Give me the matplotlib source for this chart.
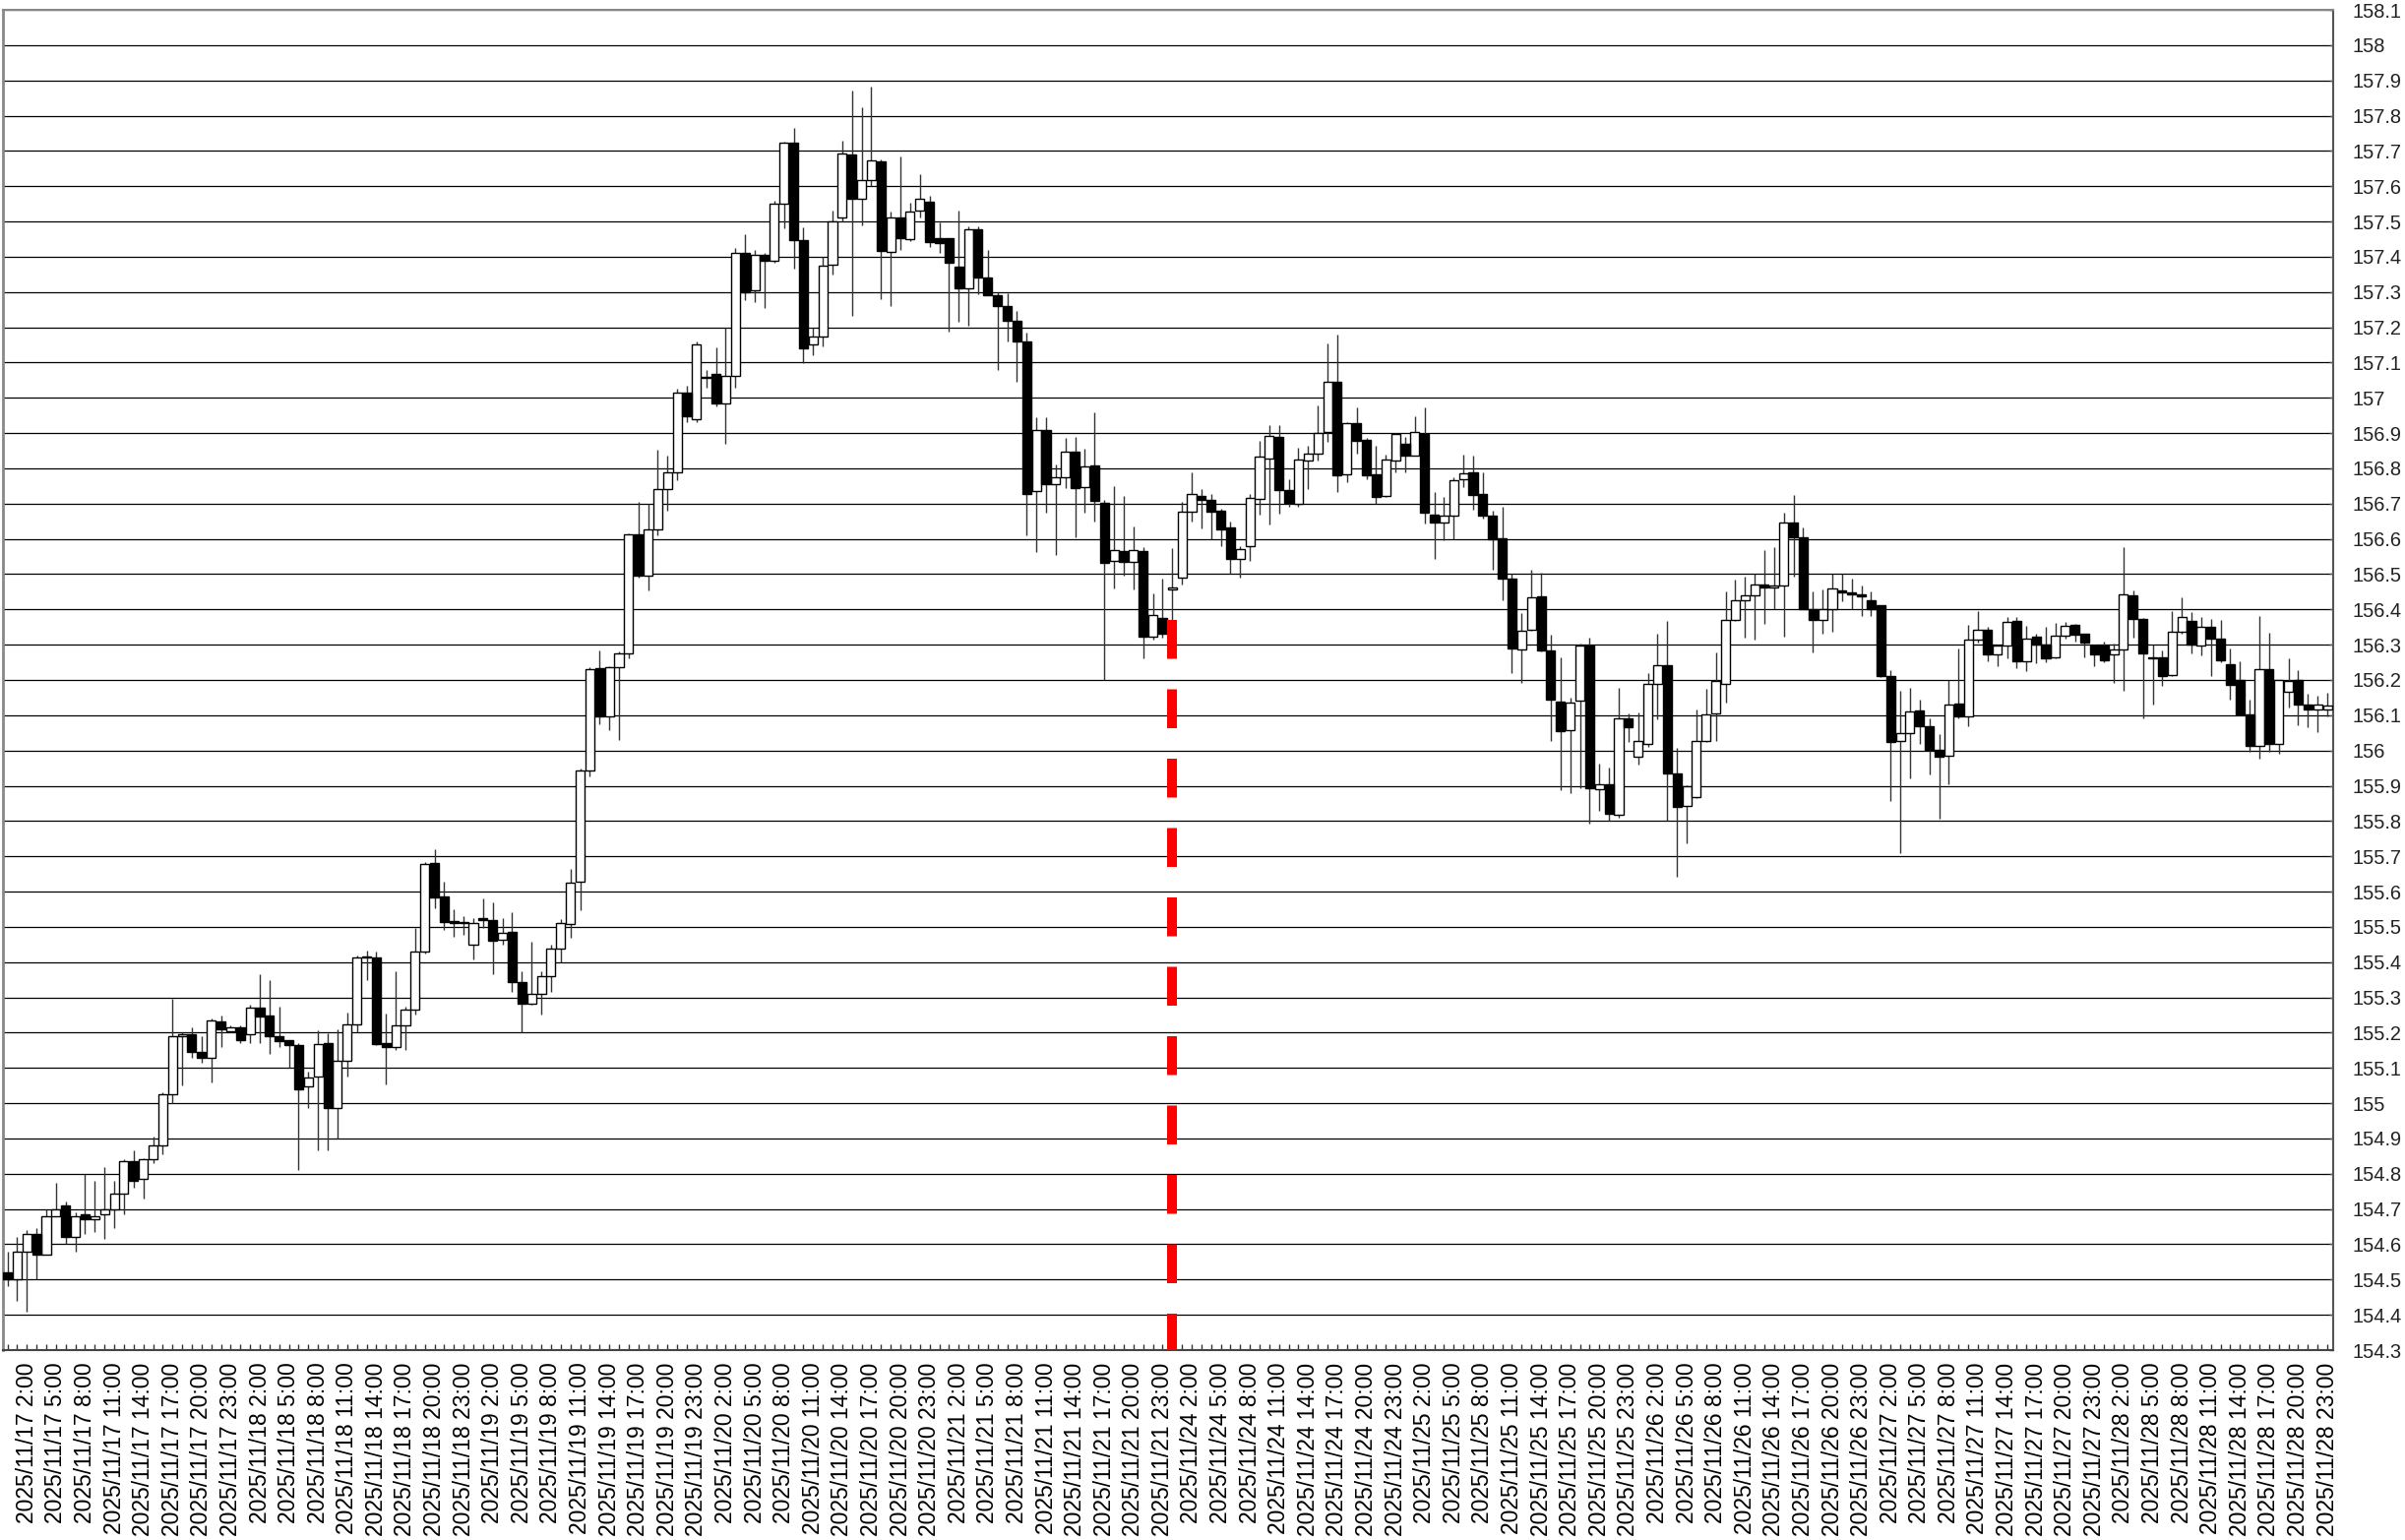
import numpy as np
import matplotlib.pyplot as plt

plt.rcParams['font.family'] = ['Liberation Sans', 'DejaVu Sans']

# hourly USD/JPY bars, 2025/11/17 0:00 - 2025/11/28 23:00 (weekend skipped)
days = ["11/17", "11/18", "11/19", "11/20", "11/21",
        "11/24", "11/25", "11/26", "11/27", "11/28"]
hours = list(range(24))

opens = [
    154.52, 154.50, 154.58, 154.63, 154.57, 154.68, 154.71, 154.62, 154.685, 154.67, 154.685, 154.70,
    154.745, 154.835, 154.785, 154.84, 154.88, 155.025, 155.19, 155.195, 155.145, 155.13, 155.233, 155.205,
    155.215, 155.195, 155.27, 155.248, 155.19, 155.18, 155.165, 155.047, 155.077, 155.17, 154.987, 155.12,
    155.224, 155.413, 155.413, 155.17, 155.158, 155.221, 155.264, 155.43, 155.68, 155.586, 155.517, 155.51,
    155.45, 155.526, 155.52, 155.463, 155.486, 155.343, 155.282, 155.31, 155.359, 155.438, 155.507, 155.628,
    155.942, 156.233, 156.097, 156.235, 156.274, 156.613, 156.497, 156.626, 156.741, 156.788, 157.016, 156.939,
    157.06, 157.068, 156.985, 157.063, 157.412, 157.306, 157.404, 157.388, 157.549, 157.723, 157.446, 157.15,
    157.173, 157.376, 157.51, 157.69, 157.564, 157.617, 157.67, 157.414, 157.51, 157.451, 157.53, 157.555,
    157.453, 157.453, 157.372, 157.31, 157.478, 157.342, 157.292, 157.26, 157.218, 157.159, 156.735, 156.908,
    156.754, 156.774, 156.848, 156.746, 156.808, 156.701, 156.537, 156.565, 156.535, 156.565, 156.322, 156.376,
    156.458, 156.491, 156.677, 156.723, 156.711, 156.68, 156.633, 156.542, 156.579, 156.714, 156.827, 156.89,
    156.739, 156.70, 156.821, 156.841, 156.902, 157.044, 156.782, 156.928, 156.881, 156.784, 156.723, 156.823,
    156.869, 156.835, 156.898, 156.67, 156.646, 156.667, 156.77, 156.79, 156.728, 156.666, 156.602, 156.488,
    156.286, 156.343, 156.437, 156.284, 156.14, 156.057, 156.142, 156.298, 155.89, 155.903, 155.818, 156.092,
    155.982, 156.019, 156.189, 156.241, 155.936, 155.843, 155.868, 156.026, 156.106, 156.189, 156.37, 156.426,
    156.439, 156.472, 156.462, 156.467, 156.646, 156.604, 156.402, 156.37, 156.40, 156.454, 156.447, 156.442,
    156.426, 156.413, 156.212, 156.027, 156.048, 156.113, 156.068, 156.001, 155.986, 156.133, 156.097, 156.315,
    156.343, 156.273, 156.299, 156.368, 156.252, 156.322, 156.30, 156.263, 156.325, 156.356, 156.33, 156.298,
    156.298, 156.273, 156.286, 156.441, 156.373, 156.263, 156.263, 156.215, 156.336, 156.368, 156.298, 156.35,
    156.317, 156.246, 156.199, 156.102, 156.013, 156.232, 156.02, 156.166, 156.199, 156.13, 156.117, 156.115,
]
highs = [
    154.58, 154.62, 154.64, 154.645, 154.70, 154.775, 154.72, 154.69, 154.80, 154.78, 154.82, 154.78,
    154.84, 154.865, 154.845, 154.905, 155.03, 155.295, 155.20, 155.215, 155.19, 155.24, 155.25, 155.22,
    155.22, 155.28, 155.367, 155.35, 155.275, 155.18, 155.17, 155.09, 155.207, 155.198, 155.21, 155.258,
    155.42, 155.432, 155.43, 155.253, 155.373, 155.275, 155.496, 155.684, 155.72, 155.628, 155.55, 155.53,
    155.524, 155.58, 155.57, 155.526, 155.542, 155.373, 155.459, 155.373, 155.45, 155.523, 155.663, 155.95,
    156.235, 156.283, 156.24, 156.28, 156.615, 156.705, 156.70, 156.853, 156.836, 157.026, 157.034, 157.159,
    157.08, 157.144, 157.199, 157.424, 157.463, 157.42, 157.41, 157.56, 157.725, 157.766, 157.483, 157.20,
    157.40, 157.53, 157.73, 157.872, 157.824, 157.883, 157.677, 157.527, 157.685, 157.553, 157.634, 157.572,
    157.496, 157.453, 157.532, 157.487, 157.485, 157.42, 157.30, 157.297, 157.247, 157.184, 156.946, 156.944,
    156.81, 156.885, 156.888, 156.856, 156.958, 156.71, 156.75, 156.721, 156.636, 156.577, 156.446, 156.486,
    156.573, 156.705, 156.788, 156.742, 156.726, 156.685, 156.649, 156.58, 156.726, 156.877, 156.923, 156.923,
    156.77, 156.858, 156.863, 156.979, 157.154, 157.179, 156.932, 156.974, 156.886, 156.865, 156.839, 156.90,
    156.89, 156.948, 156.974, 156.733, 156.72, 156.774, 156.839, 156.835, 156.788, 156.681, 156.691, 156.50,
    156.39, 156.512, 156.504, 156.328, 156.263, 156.149, 156.304, 156.321, 155.964, 155.952, 156.177, 156.106,
    156.108, 156.219, 156.33, 156.368, 156.007, 155.902, 156.117, 156.175, 156.279, 156.451, 156.484, 156.493,
    156.502, 156.567, 156.576, 156.674, 156.725, 156.632, 156.451, 156.456, 156.50, 156.50, 156.486, 156.468,
    156.452, 156.413, 156.229, 156.168, 156.178, 156.145, 156.091, 156.046, 156.199, 156.289, 156.357, 156.396,
    156.352, 156.30, 156.379, 156.379, 156.354, 156.331, 156.35, 156.362, 156.365, 156.36, 156.33, 156.30,
    156.31, 156.303, 156.577, 156.454, 156.375, 156.30, 156.285, 156.396, 156.433, 156.393, 156.379, 156.373,
    156.371, 156.289, 156.252, 156.145, 156.38, 156.334, 156.20, 156.261, 156.229, 156.161, 156.154, 156.164,
]
lows = [
    154.48, 154.44, 154.41, 154.50, 154.57, 154.68, 154.60, 154.58, 154.63, 154.635, 154.615, 154.645,
    154.686, 154.76, 154.73, 154.83, 154.855, 155.0, 155.05, 155.13, 155.115, 155.06, 155.16, 155.20,
    155.17, 155.17, 155.17, 155.14, 155.16, 155.10, 154.81, 154.987, 154.865, 154.865, 154.90, 155.077,
    155.20, 155.35, 155.165, 155.053, 155.15, 155.15, 155.252, 155.424, 155.554, 155.49, 155.472, 155.477,
    155.408, 155.498, 155.365, 155.45, 155.315, 155.20, 155.28, 155.252, 155.315, 155.40, 155.47, 155.546,
    155.927, 156.074, 156.057, 156.03, 156.26, 156.489, 156.455, 156.611, 156.68, 156.766, 156.93, 156.93,
    157.03, 156.977, 156.87, 157.028, 157.278, 157.27, 157.256, 157.382, 157.482, 157.366, 157.099, 157.12,
    157.145, 157.35, 157.50, 157.233, 157.49, 157.60, 157.28, 157.259, 157.42, 157.444, 157.51, 157.428,
    157.41, 157.187, 157.216, 157.204, 157.295, 157.29, 157.08, 157.161, 157.046, 156.61, 156.562, 156.673,
    156.554, 156.744, 156.605, 156.675, 156.65, 156.20, 156.46, 156.497, 156.458, 156.262, 156.314, 156.319,
    156.37, 156.472, 156.649, 156.63, 156.598, 156.579, 156.50, 156.491, 156.537, 156.67, 156.64, 156.672,
    156.69, 156.69, 156.742, 156.821, 156.875, 156.733, 156.762, 156.841, 156.77, 156.70, 156.719, 156.788,
    156.788, 156.835, 156.644, 156.544, 156.596, 156.60, 156.746, 156.683, 156.658, 156.512, 156.426, 156.22,
    156.191, 156.34, 156.28, 156.026, 155.887, 155.88, 155.894, 155.794, 155.829, 155.80, 155.81, 156.024,
    155.959, 156.01, 156.089, 155.80, 155.642, 155.738, 155.866, 156.024, 156.026, 156.137, 156.367, 156.321,
    156.315, 156.36, 156.40, 156.324, 156.493, 156.40, 156.277, 156.33, 156.336, 156.424, 156.40, 156.38,
    156.382, 156.207, 155.857, 155.709, 155.92, 156.02, 155.932, 155.806, 155.904, 156.09, 156.069, 156.306,
    156.254, 156.24, 156.26, 156.234, 156.224, 156.247, 156.25, 156.26, 156.317, 156.31, 156.263, 156.238,
    156.25, 156.192, 156.168, 156.319, 156.09, 156.131, 156.182, 156.21, 156.33, 156.275, 156.27, 156.21,
    156.25, 156.145, 156.10, 155.995, 155.978, 155.997, 155.992, 156.122, 156.071, 156.065, 156.052, 156.096,
]
closes = [
    154.50, 154.58, 154.63, 154.57, 154.68, 154.70, 154.62, 154.68, 154.67, 154.68, 154.70, 154.745,
    154.835, 154.78, 154.84, 154.88, 155.025, 155.19, 155.195, 155.145, 155.13, 155.235, 155.21, 155.215,
    155.18, 155.27, 155.245, 155.19, 155.175, 155.165, 155.04, 155.072, 155.167, 154.987, 155.12, 155.224,
    155.413, 155.415, 155.168, 155.158, 155.22, 155.264, 155.43, 155.679, 155.584, 155.514, 155.511, 155.515,
    155.512, 155.52, 155.46, 155.483, 155.343, 155.282, 155.31, 155.359, 155.438, 155.512, 155.626, 155.942,
    156.232, 156.097, 156.236, 156.274, 156.613, 156.495, 156.626, 156.741, 156.788, 157.016, 156.949, 157.152,
    157.056, 156.985, 157.063, 157.412, 157.299, 157.404, 157.388, 157.549, 157.723, 157.446, 157.141, 157.173,
    157.374, 157.50, 157.694, 157.564, 157.617, 157.674, 157.417, 157.51, 157.453, 157.529, 157.564, 157.442,
    157.438, 157.382, 157.31, 157.478, 157.342, 157.292, 157.26, 157.218, 157.159, 156.726, 156.91, 156.754,
    156.774, 156.848, 156.743, 156.806, 156.707, 156.531, 156.569, 156.535, 156.569, 156.322, 156.384, 156.33,
    156.462, 156.677, 156.726, 156.711, 156.677, 156.628, 156.542, 156.572, 156.717, 156.832, 156.892, 156.739,
    156.702, 156.825, 156.841, 156.90, 157.044, 156.779, 156.928, 156.877, 156.779, 156.719, 156.825, 156.897,
    156.835, 156.902, 156.674, 156.646, 156.667, 156.767, 156.786, 156.725, 156.666, 156.60, 156.488, 156.29,
    156.34, 156.434, 156.284, 156.145, 156.055, 156.137, 156.298, 155.892, 155.904, 155.82, 156.092, 156.066,
    156.026, 156.189, 156.241, 155.936, 155.84, 155.899, 156.026, 156.103, 156.196, 156.37, 156.426, 156.439,
    156.47, 156.462, 156.467, 156.646, 156.604, 156.40, 156.37, 156.40, 156.46, 156.449, 156.442, 156.438,
    156.40, 156.21, 156.025, 156.048, 156.111, 156.068, 156.001, 155.983, 156.131, 156.097, 156.315, 156.343,
    156.273, 156.299, 156.366, 156.252, 156.317, 156.30, 156.26, 156.325, 156.354, 156.328, 156.305, 156.273,
    156.255, 156.286, 156.442, 156.373, 156.275, 156.26, 156.21, 156.338, 156.378, 156.30, 156.352, 156.317,
    156.257, 156.187, 156.102, 156.013, 156.232, 156.02, 156.199, 156.198, 156.13, 156.115, 156.131, 156.127,
]

# week boundary marker (first bar of 11/24, from last week's close level down)
break_bar = 120
break_top = 156.37

y_ticks = np.round(np.arange(154.3, 158.15, 0.1), 1)

labels = [f"2025/{d} {hh}:00" for d in days for hh in hours]
label_hours = [hh for d in days for hh in hours]

o, h, l, c = map(np.array, (opens, highs, lows, closes))
x = np.arange(len(o))
up = c >= o
body_lo = np.minimum(o, c)
body_h = np.maximum(np.abs(c - o), 0.003)

fig = plt.figure(figsize=(24.44, 15.65), dpi=100)
ax = fig.add_axes([3 / 2444, 1 - 1372 / 1565, 2368 / 2444, 1362 / 1565])

ax.set_xlim(-0.46, 239.6)
ax.set_ylim(154.3, 158.1)

# horizontal grid
ax.set_yticks(y_ticks)
ax.set_yticklabels([f"{v:g}" for v in y_ticks])
ax.grid(axis="y", color="black", lw=0.9, zorder=0)
ax.set_axisbelow(True)

# candles
ax.vlines(x, l, h, color="#333333", lw=1.0, zorder=2)
ax.bar(x[up], body_h[up], bottom=body_lo[up], width=0.92,
       color="white", edgecolor="black", lw=1.0, zorder=3)
ax.bar(x[~up], body_h[~up], bottom=body_lo[~up], width=0.92,
       color="black", edgecolor="black", lw=1.0, zorder=3)

# red dashed week separator
ax.plot([break_bar, break_bar], [break_top, 154.3], color="#ff0000", lw=7.2,
        ls=(0, (3.95, 3.1)), solid_capstyle="butt", dash_capstyle="butt", zorder=4)

# x axis: tick at each bar, label every 3 hours
ax.set_xticks(x)
ax.set_xticklabels([lab if hh % 3 == 2 else "" for lab, hh in zip(labels, label_hours)],
                   rotation=90, fontsize=16.5)
ax.tick_params(axis="x", direction="in", length=4, width=1, color="#333333", pad=9)

ax.yaxis.tick_right()
ax.tick_params(axis="y", direction="in", length=3, width=1, color="#555555", pad=14,
               labelsize=14.4, labelcolor="#222222")

for side in ["left", "top"]:
    ax.spines[side].set_color("#888888")
    ax.spines[side].set_linewidth(1.5)
ax.spines["left"].set_linewidth(2)
ax.spines["right"].set_color("#555555")
ax.spines["right"].set_linewidth(1.5)
ax.spines["bottom"].set_color("#444444")
ax.spines["bottom"].set_linewidth(1.5)

fig.savefig("out.png", dpi=100)
